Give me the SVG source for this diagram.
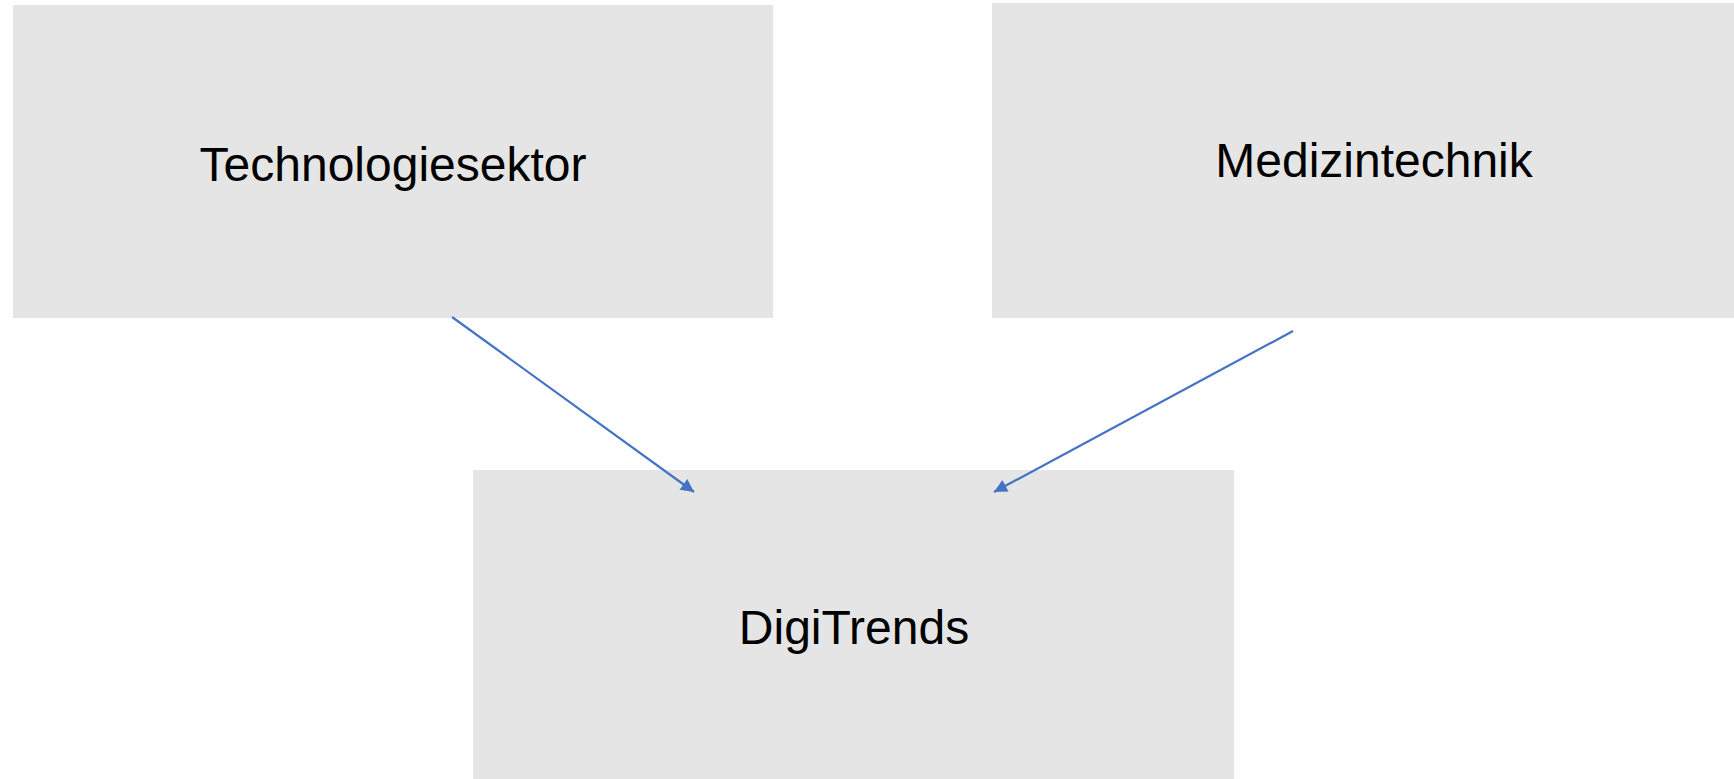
<svg xmlns="http://www.w3.org/2000/svg" width="1734" height="779" viewBox="0 0 1734 779">
<style>
.box{fill:#E5E5E5;}
.lbl{font-family:"Liberation Sans",Arial,sans-serif;font-size:48px;fill:#000;text-anchor:middle;}
.edge{stroke:#4472C4;stroke-width:2.2;fill:none;marker-end:url(#arr);}
</style>
<defs>
<marker id="arr" viewBox="0 0 10 10" refX="10" refY="5" markerWidth="18" markerHeight="13" markerUnits="userSpaceOnUse" orient="auto">
<path d="M0,0 L10,5 L0,10 z" fill="#4472C4"/>
</marker>
</defs>
<rect width="1734" height="779" fill="#FFFFFF"/>
<g id="node-technologiesektor">
<rect class="box" x="13" y="5" width="760" height="313"/>
<text class="lbl" x="393" y="181">Technologiesektor</text>
</g>
<g id="node-medizintechnik">
<rect class="box" x="992" y="3" width="764" height="315"/>
<text class="lbl" x="1374" y="177">Medizintechnik</text>
</g>
<g id="node-digitrends">
<rect class="box" x="473" y="470" width="761" height="314"/>
<text class="lbl" x="854" y="644">DigiTrends</text>
</g>
<g id="connectors">
<line class="edge" x1="452" y1="317" x2="694" y2="492"/>
<line class="edge" x1="1293" y1="331" x2="994" y2="492"/>
</g>
</svg>
